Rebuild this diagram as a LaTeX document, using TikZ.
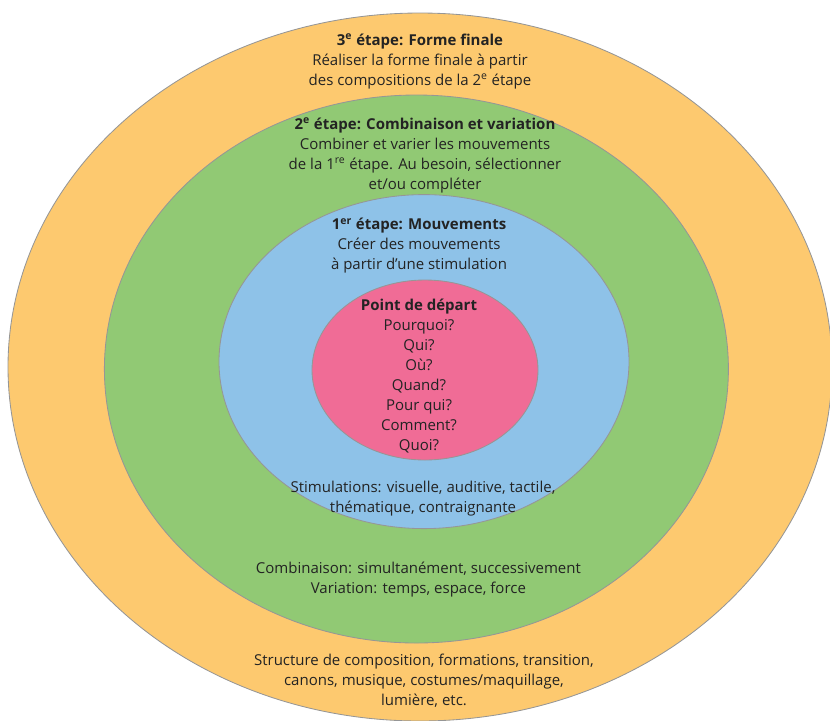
\documentclass[tikz,border=0pt]{standalone}
\usepackage{fontspec}
\setmainfont{Open Sans}
\usetikzlibrary{shapes.geometric}
\definecolor{FinaleOrange}{RGB}{253,201,111}
\definecolor{CombiGreen}{RGB}{145,201,116}
\definecolor{MouvBlue}{RGB}{142,194,232}
\definecolor{DepartPink}{RGB}{240,108,150}
\definecolor{RingGray}{RGB}{150,150,150}
\definecolor{TextDark}{RGB}{35,35,35}

\begin{document}
\begin{tikzpicture}[
  ring/.style={ellipse,draw=RingGray,line width=0.6pt,inner sep=0pt},
  t/.style={align=center,inner sep=0pt,text=TextDark,font=\fontsize{10.67}{14.23}\selectfont}
]
  \useasboundingbox (0,0) rectangle (20.75,-18);
  % rings, outside in
  \node[ring,fill=FinaleOrange,minimum width=20.6cm,minimum height=17.7cm] (finale) at (10.5,-9.175) {};
  \node[ring,fill=CombiGreen,minimum width=15.6cm,minimum height=13.7cm] (combi) at (10.41,-9.225) {};
  \node[ring,fill=MouvBlue,minimum width=10.25cm,minimum height=8.35cm] (mouv) at (10.6,-9.04) {};
  \node[ring,fill=DepartPink,minimum width=5.65cm,minimum height=4.5cm] (depart) at (10.625,-9.25) {};
  % texts
  \node[t] (finaleTop) at (10.5,-1.54) {\textbf{3\textsuperscript{e} étape: Forme finale}\\Réaliser la forme finale à partir\\des compositions de la 2\textsuperscript{e} étape};
  \node[t] (combiTop) at (10.625,-3.89) {\textbf{2\textsuperscript{e} étape: Combinaison et variation}\\Combiner et varier les mouvements\\de la 1\textsuperscript{re} étape. Au besoin, sélectionner\\et/ou compléter};
  \node[t] (mouvTop) at (10.475,-6.15) {\textbf{1\textsuperscript{er} étape: Mouvements}\\Créer des mouvements\\à partir d’une stimulation};
  \node[t] (departTxt) at (10.475,-9.41) {\textbf{Point de départ}\\Pourquoi?\\Qui?\\Où?\\Quand?\\Pour qui?\\Comment?\\Quoi?};
  \node[t] (mouvBot) at (10.575,-12.46) {Stimulations: visuelle, auditive, tactile,\\thématique, contraignante};
  \node[t] (combiBot) at (10.46,-14.5) {Combinaison: simultanément, successivement\\Variation: temps, espace, force};
  \node[t] (finaleBot) at (10.6,-17.025) {Structure de composition, formations, transition,\\canons, musique, costumes/maquillage,\\lumière, etc.};
\end{tikzpicture}
\end{document}
